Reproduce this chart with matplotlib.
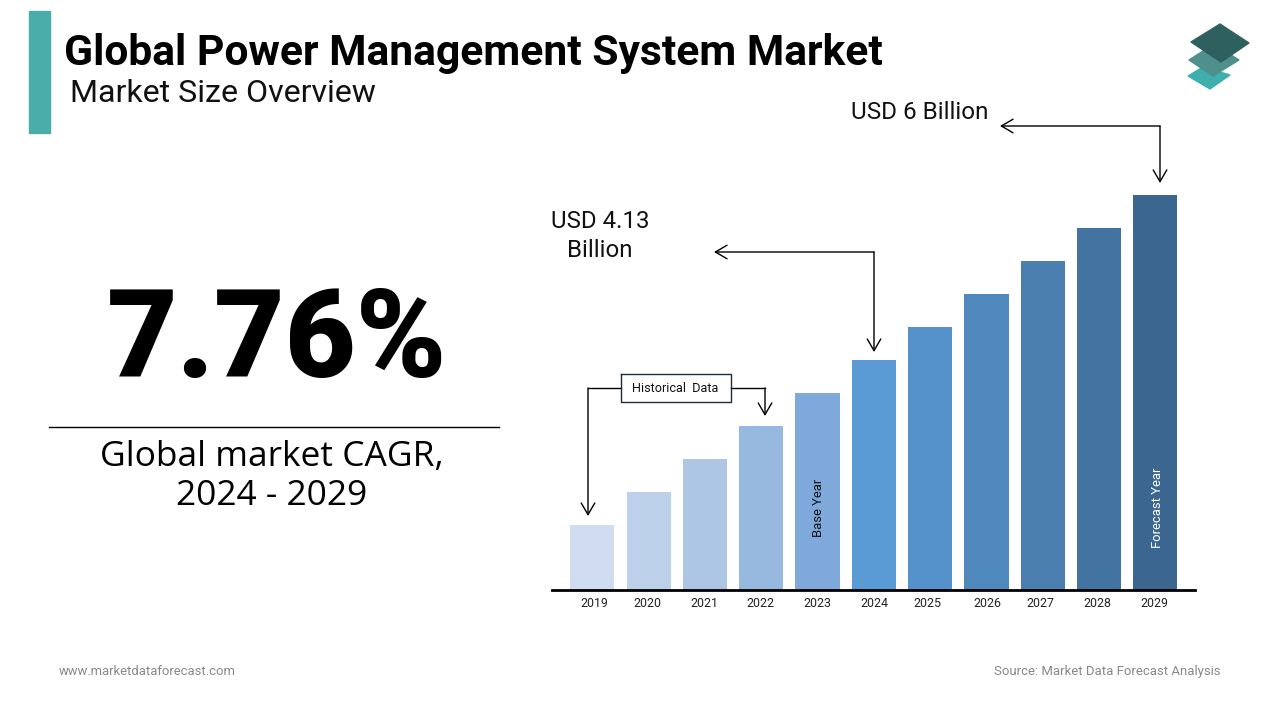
import matplotlib.pyplot as plt

years = [2019, 2020, 2021, 2022, 2023, 2024, 2025, 2026, 2027, 2028, 2029]
heights = [65, 98, 131, 164, 197, 230, 263, 296, 329, 362, 395]
bar_colors = ['#D0DDF0', '#BDD0EA', '#AEC6E6', '#98B9DF', '#7EA9DA', '#5B9BD5',
              '#5592CB', '#4E88BD', '#4A7FB0', '#4373A1', '#3A6690']
label_pos = [2019.03, 2019.97, 2020.99, 2021.99, 2023, 2024.01, 2024.95, 2026.01,
             2026.95, 2027.97, 2028.98]

# Create a new figure the size of the slide
fig = plt.figure(figsize=(12.8, 7.2), dpi=100)

# Put the bars on their own axes, lined up with the right side of the slide
ax = fig.add_axes([552 / 1280, 1 - 590 / 720, 643 / 1280, 410 / 720])
ax.bar(years, heights, width=0.785, color=bar_colors)
ax.set_xlim(2018.284, 2029.705)
ax.set_ylim(0, 410)
ax.set_xticks(label_pos, years, fontsize=8.9, family='Roboto', color='#222222')
ax.tick_params(axis='x', length=0, pad=5)
ax.set_yticks([])
for side in ['top', 'left', 'right']:
    ax.spines[side].set_visible(False)
ax.spines['bottom'].set_linewidth(2)

# Labels inside the bars
ax.text(2023.02, 53, 'Base Year', rotation=90, ha='center', va='bottom',
        fontsize=9.4, family='Roboto', color='#111111')
ax.text(2029.04, 42, 'Forecast Year', rotation=90, ha='center', va='bottom',
        fontsize=9.4, family='Roboto', color='white')

# A second axes over the whole figure, in pixels, for the slide furniture
over = fig.add_axes([0, 0, 1, 1], facecolor='none')
over.set_xlim(0, 1280)
over.set_ylim(720, 0)
over.axis('off')

over.fill([29, 50, 50, 29], [11, 11, 133, 133], color='#4AADAA')
over.text(64, 53, 'Global Power Management System Market', fontsize=30.7,
          family='Roboto', weight='bold', va='center', color='black')
over.text(70, 93.5, 'Market Size Overview', fontsize=23.1, family='Roboto',
          va='center', color='#111111')

# Logo, three stacked diamonds
over.fill([1203, 1230, 1210, 1188], [67, 75, 89, 76], color='#3FAFAE')
over.fill([1214, 1239, 1213, 1189], [44, 60, 76, 60], color='#4F8F8C')
over.fill([1220, 1249, 1221, 1191], [24, 43, 62, 42], color='#2F6060')

# The big number on the left
over.text(277, 344, '7.76%', fontsize=88, family='Roboto', weight='black',
          ha='center', va='center', color='black')
over.plot([49, 499], [427, 427], color='black', lw=1)
over.text(272, 457, 'Global market CAGR,', fontsize=25.5, family='Open Sans',
          ha='center', va='center', color='black')
over.text(272, 496, '2024 - 2029', fontsize=25.5, family='Open Sans',
          ha='center', va='center', color='black')

# Callouts
over.text(920, 112.5, 'USD 6 Billion', fontsize=17.5, family='Roboto',
          ha='center', va='center', color='#111111')
over.text(600, 222, 'USD 4.13', fontsize=17.3, family='Roboto',
          ha='center', va='center', color='#111111')
over.text(600, 250.5, 'Billion', fontsize=17.3, family='Roboto',
          ha='center', va='center', color='#111111')

arrow = dict(arrowstyle='->,head_length=0.6,head_width=0.35', color='black', lw=1,
             shrinkA=0, shrinkB=0, mutation_scale=14)
over.annotate('', xy=(1000, 126), xytext=(1160, 126), arrowprops=arrow)
over.annotate('', xy=(1160, 183), xytext=(1160, 126), arrowprops=arrow)
over.annotate('', xy=(714, 252), xytext=(874, 252), arrowprops=arrow)
over.annotate('', xy=(874, 352), xytext=(874, 252), arrowprops=arrow)

# Historical data bracket
over.plot([621, 588], [388, 388], color='black', lw=1)
over.annotate('', xy=(588, 516), xytext=(588, 388), arrowprops=arrow)
over.plot([731, 765], [388, 388], color='black', lw=1)
over.annotate('', xy=(765, 416), xytext=(765, 388), arrowprops=arrow)
over.text(675.5, 388, 'Historical  Data', fontsize=9.1, family='Roboto',
          ha='center', va='center', color='#111111')
over.plot([621, 731, 731, 621, 621], [374, 374, 402, 402, 374], color='#1F2D3D',
          lw=1)

# Footer
over.text(59, 671.5, 'www.marketdataforecast.com', fontsize=9.35, family='Roboto',
          va='center', color='#888888')
over.text(1221, 671.5, 'Source: Market Data Forecast Analysis', fontsize=9.45,
          family='Roboto', ha='right', va='center', color='#888888')

plt.savefig('out.png')
